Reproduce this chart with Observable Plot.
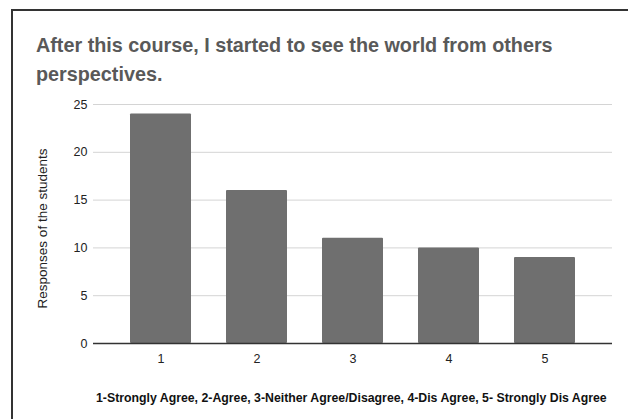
<!DOCTYPE html>
<html>
<head>
<meta charset="utf-8">
<script src="https://cdn.jsdelivr.net/npm/d3@7"></script>
<script src="https://cdn.jsdelivr.net/npm/@observablehq/plot@0.6"></script>
<style>
  html, body { margin: 0; padding: 0; background: #fff; }
  #wrap { position: relative; width: 628px; height: 419px; overflow: hidden; font-family: "Liberation Sans", Arial, sans-serif; }
  #frame { position: absolute; left: 11px; top: 9px; width: 700px; height: 500px; border-top: 2px solid #333; border-left: 2px solid #333; }
  #title { position: absolute; left: 36px; top: 31px; width: 580px; font-size: 19.8px; line-height: 29px; font-weight: bold; color: #595959; }
  #chart { position: absolute; left: 0; top: 90px; }
  #caption { position: absolute; left: 96px; top: 391px; font-size: 12.3px; line-height: 14px; font-weight: bold; color: #111; white-space: nowrap; }
</style>
</head>
<body>
<div id="wrap">
  <div id="frame"></div>
  <div id="title">After this course, I started to see the world from others perspectives.</div>
  <div id="chart"></div>
  <div id="caption">1-Strongly Agree, 2-Agree, 3-Neither Agree/Disagree, 4-Dis Agree, 5- Strongly Dis Agree</div>
</div>
<script>
const categories = ["1", "2", "3", "4", "5"];
const responses = [24, 16, 11, 10, 9];
const yTicks = [0, 5, 10, 15, 20, 25];
const yLabel = "Responses of the students";

const data = categories.map((c, i) => ({category: c, value: responses[i]}));

const chart = Plot.plot({
  width: 628,
  height: 290,
  marginLeft: 93,
  marginRight: 16,
  marginTop: 14,
  marginBottom: 37,
  style: {fontFamily: "'Liberation Sans', Arial, sans-serif", fontSize: "12.5px", color: "#333", background: "transparent", overflow: "visible"},
  x: {domain: categories, padding: 0.36, label: null, tickSize: 0, tickPadding: 11},
  y: {domain: [0, 25], ticks: yTicks, label: null, tickSize: 0, tickPadding: 6},
  marks: [
    Plot.gridY(yTicks.filter(t => t > 0), {stroke: "#d4d4d4", strokeOpacity: 1, strokeWidth: 1}),
    Plot.barY(data, {x: "category", y: "value", fill: "#6f6f6f", rx: 1}),
    Plot.ruleY([0], {stroke: "#333", strokeWidth: 1.3}),
    Plot.axisX({tickSize: 0, tickPadding: 11, fill: "#222", fontSize: 12.5}),
    Plot.axisY({ticks: yTicks, tickSize: 0, tickPadding: 6, fill: "#222", fontSize: 12.5}),
    Plot.text([yLabel], {frameAnchor: "left", text: d => d, rotate: -90, textAnchor: "middle", dx: -51, dy: 4.5, fill: "#222", fontSize: 13.5})
  ]
});
document.getElementById("chart").appendChild(chart);
</script>
</body>
</html>
